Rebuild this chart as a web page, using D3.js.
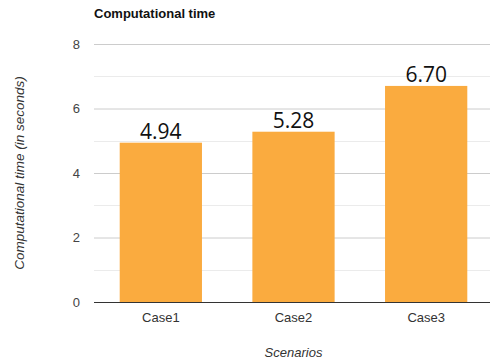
<!DOCTYPE html>
<html>
<head>
<meta charset="utf-8">
<script src="https://cdn.jsdelivr.net/npm/d3@7"></script>
<style>
  body { margin: 0; background: #fff; }
  svg { display: block; font-family: "Liberation Sans", Arial, sans-serif; }
</style>
</head>
<body>
<svg id="chart" width="493" height="363"></svg>
<script>
const categories = ["Case1", "Case2", "Case3"];
const values = [4.94, 5.28, 6.70];
const valueLabels = ["4.94", "5.28", "6.70"];
const yTicks = [0, 2, 4, 6, 8];
const yMinorTicks = [1, 3, 5, 7];

const svg = d3.select("#chart");
const margin = { top: 44, right: 0, bottom: 61, left: 94 };
const W = 493, H = 363;

const x = d3.scaleBand()
  .domain(categories)
  .range([margin.left + 0.5, W - 0.5])
  .paddingInner(0.38)
  .paddingOuter(0.19);

const y = d3.scaleLinear()
  .domain([0, 8])
  .range([H - margin.bottom, margin.top]);

// minor gridlines
svg.append("g").selectAll("line")
  .data(yMinorTicks).join("line")
  .attr("x1", margin.left).attr("x2", W - 3)
  .attr("y1", d => Math.round(y(d)) + 0.5).attr("y2", d => Math.round(y(d)) + 0.5)
  .attr("stroke", "#ebebeb").attr("stroke-width", 1);

// major gridlines + labels
const yAxis = d3.axisLeft(y).tickValues(yTicks).tickSize(0).tickPadding(14);
const gy = svg.append("g").attr("transform", `translate(${margin.left},0)`).call(yAxis);
gy.select(".domain").remove();
gy.selectAll("text").attr("font-size", 13).attr("fill", "#444")
  .attr("font-family", "Liberation Sans, Arial, sans-serif");
gy.selectAll(".tick").filter(d => d !== 0).append("line")
  .attr("x1", 0).attr("x2", W - 3 - margin.left)
  .attr("stroke", "#cccccc").attr("stroke-width", 1);

// bars
svg.append("g").selectAll("rect")
  .data(values).join("rect")
  .attr("x", (d, i) => x(categories[i]))
  .attr("width", x.bandwidth())
  .attr("y", d => y(d))
  .attr("height", d => y(0) - y(d))
  .attr("fill", "#faab3f");

// baseline
svg.append("line")
  .attr("x1", margin.left).attr("x2", W - 3)
  .attr("y1", Math.round(y(0)) + 0.5).attr("y2", Math.round(y(0)) + 0.5)
  .attr("stroke", "#333").attr("stroke-width", 1.2);

// value labels
svg.append("g").selectAll("text")
  .data(values).join("text")
  .attr("x", (d, i) => x(categories[i]) + x.bandwidth() / 2)
  .attr("y", d => y(d) - 4)
  .attr("text-anchor", "middle")
  .attr("font-family", "Open Sans, Noto Sans, sans-serif")
  .attr("font-size", 21)
  .attr("fill", "#111")
  .text((d, i) => valueLabels[i]);

// category labels
const xAxis = d3.axisBottom(x).tickSize(0).tickPadding(11);
const gx = svg.append("g").attr("transform", `translate(0,${y(0)})`).call(xAxis);
gx.select(".domain").remove();
gx.selectAll("text").attr("font-size", 13).attr("fill", "#333")
  .attr("font-family", "Liberation Sans, Arial, sans-serif");

// title
svg.append("text")
  .attr("x", 94).attr("y", 18)
  .attr("font-size", 13).attr("font-weight", "bold").attr("fill", "#111")
  .text("Computational time");

// axis titles
svg.append("text")
  .attr("transform", `translate(24,${(y(0) + y(8)) / 2}) rotate(-90)`)
  .attr("text-anchor", "middle")
  .attr("font-size", 13.5).attr("font-style", "italic").attr("fill", "#333")
  .text("Computational time (in seconds)");

svg.append("text")
  .attr("x", x("Case2") + x.bandwidth() / 2).attr("y", 357)
  .attr("text-anchor", "middle")
  .attr("font-size", 13).attr("font-style", "italic").attr("fill", "#333")
  .text("Scenarios");
</script>
</body>
</html>
